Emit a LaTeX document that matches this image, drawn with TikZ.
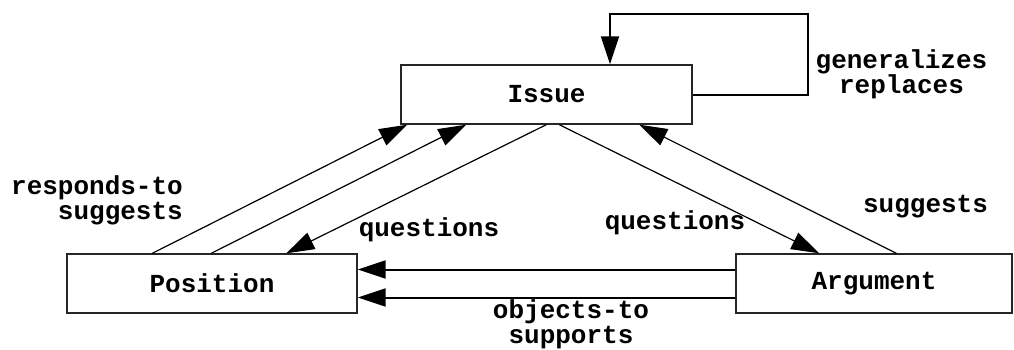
\documentclass[tikz,border=0pt]{standalone}
\usepackage{fontspec}
\setmonofont{Liberation Mono}
\usetikzlibrary{arrows.meta}
\newcommand\diagfont{\ttfamily\bfseries\fontsize{26}{25}\selectfont}
\begin{document}
\begin{tikzpicture}[x=1pt,y=-1pt,
  box/.style={draw=black!85, line width=1.4pt, minimum width=#1,
    minimum height=59pt, inner sep=0pt, font=\diagfont},
  lbl/.style={inner sep=0pt, font=\diagfont},
  tip/.style={-{Triangle[length=28pt,width=18pt]}},
  slant/.style={line width=1.2pt, tip},
  flat/.style={line width=2pt, tip}]
\useasboundingbox (0,0) rectangle (1014,349);

% boxes
\node[box=291pt] (issue) at (546.5,94.5) {Issue};
\node[box=290pt] (pos)   at (212,283.5) {Position};
\node[box=276pt] (arg)   at (874,283.5) {Argument};

% self loop on Issue
\coordinate (loopR) at (808,14);
\coordinate (loopL) at (610,14);
\draw[flat] (issue.east) -| (loopR) -- (loopL) -- (loopL |- issue.north);

% Position <-> Issue
\draw[slant] ([xshift=86pt]pos.north west) -- ([xshift=7pt]issue.south west);
\draw[slant] ([xshift=145pt]pos.north west) -- ([xshift=66pt]issue.south west);
\draw[slant] ([xshift=146pt]issue.south west) -- ([xshift=220pt]pos.north west);

% Issue <-> Argument
\draw[slant] ([xshift=159pt]issue.south west) -- ([xshift=84pt]arg.north west);
\draw[slant] ([xshift=161pt]arg.north west) -- ([xshift=239pt]issue.south west);

% Argument -> Position
\draw[flat] ([yshift=14pt]arg.west) -- ([yshift=14pt]pos.east);
\draw[flat] ([yshift=-14pt]arg.west) -- ([yshift=-14pt]pos.east);

% labels
\node[lbl, align=center] (lgen) at (901.5,74) {generalizes\\replaces};
\node[lbl, align=right, anchor=east] (lresp) at (183,200) {responds-to\\suggests};
\node[lbl] (lq1) at (429,230) {questions};
\node[lbl] (lq2) at (675,223) {questions};
\node[lbl] (lsug) at (925.5,207) {suggests};
\node[lbl, align=center] (lobj) at (571,324) {objects-to\\supports};
\end{tikzpicture}
\end{document}
